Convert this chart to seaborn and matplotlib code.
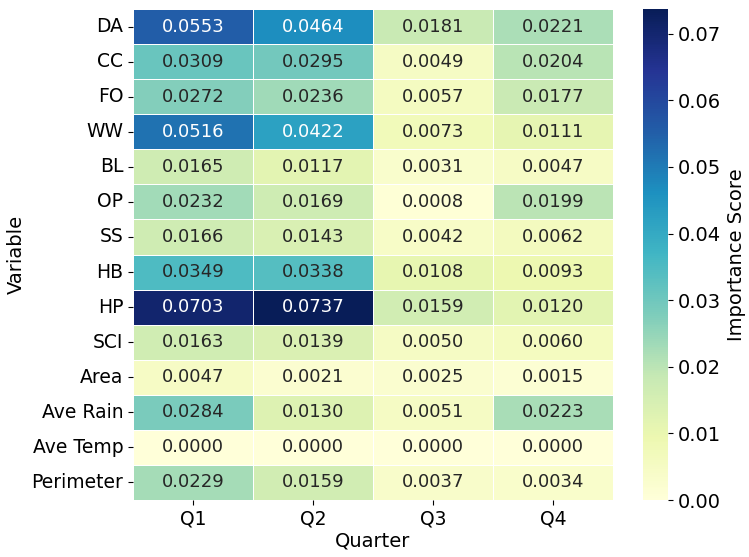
import numpy as np
import pandas as pd
import seaborn as sns
import matplotlib
matplotlib.use("Agg")
import matplotlib.pyplot as plt

variables = ["DA", "CC", "FO", "WW", "BL", "OP", "SS", "HB", "HP", "SCI",
             "Area", "Ave Rain", "Ave Temp", "Perimeter"]
quarters = ["Q1", "Q2", "Q3", "Q4"]

q1 = [0.0553, 0.0309, 0.0272, 0.0516, 0.0165, 0.0232, 0.0166, 0.0349, 0.0703, 0.0163, 0.0047, 0.0284, 0.0000, 0.0229]
q2 = [0.0464, 0.0295, 0.0236, 0.0422, 0.0117, 0.0169, 0.0143, 0.0338, 0.0737, 0.0139, 0.0021, 0.0130, 0.0000, 0.0159]
q3 = [0.0181, 0.0049, 0.0057, 0.0073, 0.0031, 0.0008, 0.0042, 0.0108, 0.0159, 0.0050, 0.0025, 0.0051, 0.0000, 0.0037]
q4 = [0.0221, 0.0204, 0.0177, 0.0111, 0.0047, 0.0199, 0.0062, 0.0093, 0.0120, 0.0060, 0.0015, 0.0223, 0.0000, 0.0034]

df = pd.DataFrame({"Q1": q1, "Q2": q2, "Q3": q3, "Q4": q4}, index=variables)

W, H = 749, 557
fig = plt.figure(figsize=(W / 100, H / 100), dpi=100)
# axes placed in pixel terms: heatmap and colorbar
ax = fig.add_axes([133 / W, 1 - 500 / H, (613 - 133) / W, (500 - 9) / H])
cax = fig.add_axes([643 / W, 1 - 500 / H, 25 / W, (500 - 9) / H])

sns.heatmap(df, annot=True, fmt=".4f", cmap="YlGnBu", linewidths=0.5, linecolor="white",
            vmin=0, annot_kws={"fontsize": 13}, ax=ax, cbar_ax=cax,
            cbar_kws={"label": "Importance Score"})
ax.set_xlabel("Quarter", fontsize=14, labelpad=2)
ax.set_ylabel("Variable", fontsize=14)
ax.tick_params(axis="y", rotation=0, labelsize=13.5)
ax.tick_params(axis="x", labelsize=13.5)
cbar = ax.collections[0].colorbar
cbar.ax.tick_params(labelsize=14)
cbar.set_label("Importance Score", fontsize=14)
cbar.outline.set_visible(False)
plt.savefig("out.png", dpi=100)
